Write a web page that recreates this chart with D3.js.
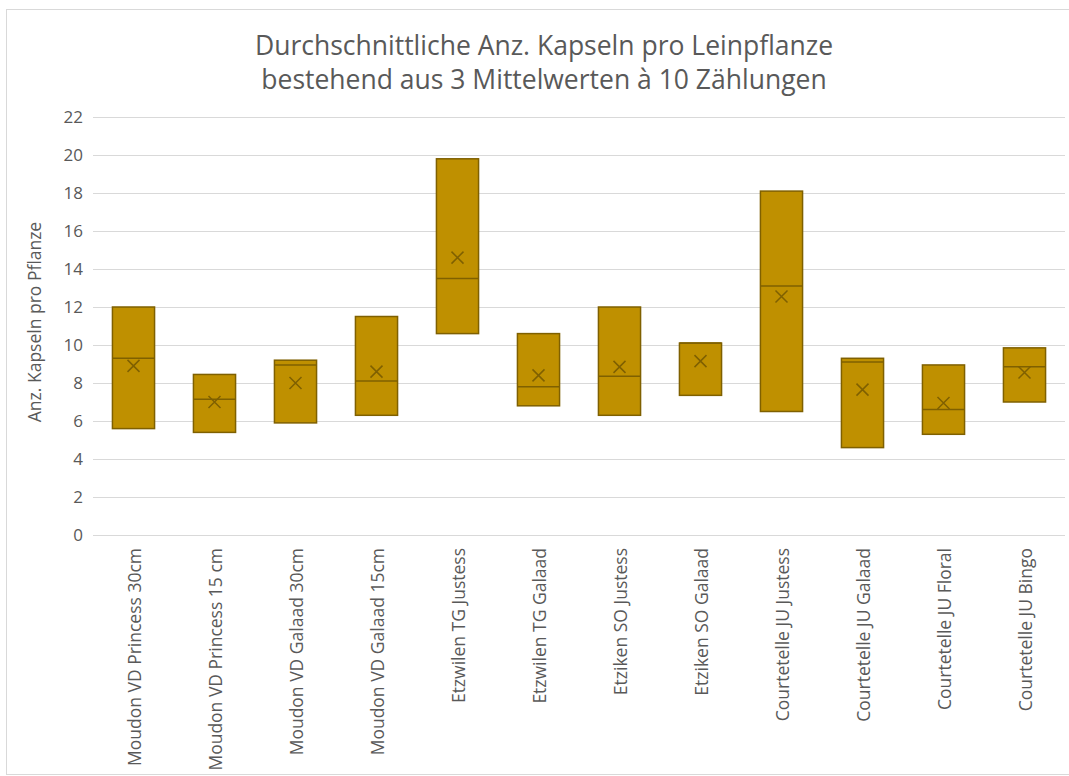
<html lang="de">
<head>
<meta charset="utf-8">
<title>Kapseln pro Leinpflanze</title>
<script src="https://d3js.org/d3.v7.min.js"></script>
<style>
  body { margin: 0; background: #fff; font-family: "Open Sans", sans-serif; overflow: hidden; }
  .grid line { stroke: #d9d9d9; stroke-width: 1px; shape-rendering: crispEdges; }
  .grid path { display: none; }
  .axis path, .axis line { display: none; }
  .axis text { fill: #595959; }
</style>
</head>
<body>
<script>
var categories = ["Moudon VD Princess 30cm", "Moudon VD Princess 15 cm", "Moudon VD Galaad 30cm",
  "Moudon VD Galaad 15cm", "Etzwilen TG Justess", "Etzwilen TG Galaad", "Etziken SO Justess",
  "Etziken SO Galaad", "Courtetelle JU Justess", "Courtetelle JU Galaad", "Courtetelle JU Floral",
  "Courtetelle JU Bingo"];
var q1Values     = [5.6, 5.4, 5.9, 6.3, 10.6, 6.8, 6.3, 7.35, 6.5, 4.6, 5.3, 7.0];
var medianValues = [9.3, 7.15, 8.95, 8.1, 13.5, 7.8, 8.35, 10.1, 13.1, 9.1, 6.6, 8.85];
var q3Values     = [12.0, 8.45, 9.2, 11.5, 19.8, 10.6, 12.0, 10.1, 18.1, 9.3, 8.95, 9.85];
var meanValues   = [8.9, 7.0, 8.0, 8.6, 14.6, 8.4, 8.85, 9.15, 12.55, 7.65, 6.95, 8.55];
var yTicks = [0, 2, 4, 6, 8, 10, 12, 14, 16, 18, 20, 22];

var width = 1069, height = 776;
var plot = {left: 93, right: 1065, top: 117, bottom: 535};

var svg = d3.select("body").append("svg")
    .attr("width", width)
    .attr("height", height)
    .style("display", "block");

// chart frame (runs off the right edge like the original)
svg.append("rect")
    .attr("x", 6.5).attr("y", 9.5)
    .attr("width", width + 10).attr("height", 765)
    .attr("fill", "#fff")
    .attr("stroke", "#d9d9d9");

var x = d3.scaleBand()
    .domain(categories)
    .range([plot.left, plot.right])
    .paddingInner(0.48)
    .paddingOuter(0.24);

var y = d3.scaleLinear()
    .domain([0, 22])
    .range([plot.bottom, plot.top]);

// gridlines
svg.append("g")
    .attr("class", "grid")
    .attr("transform", "translate(" + plot.left + ",0)")
    .call(d3.axisLeft(y).tickValues(yTicks).tickSize(-(plot.right - plot.left)).tickFormat(""));

// y axis labels
svg.append("g")
    .attr("class", "axis")
    .attr("transform", "translate(" + (plot.left - 10) + ",0)")
    .call(d3.axisLeft(y).tickValues(yTicks).tickSize(0).tickPadding(0))
    .selectAll("text")
    .style("font-size", "17px")
    .style("font-family", "'Open Sans', sans-serif");

// x axis labels
svg.append("g")
    .attr("class", "axis")
    .attr("transform", "translate(0," + (plot.bottom + 13) + ")")
    .call(d3.axisBottom(x).tickSize(0).tickPadding(0))
    .selectAll("text")
    .style("font-size", "17.5px")
    .style("font-family", "'Open Sans', sans-serif")
    .style("text-anchor", "end")
    .attr("x", 0)
    .attr("y", 1)
    .attr("dx", 0)
    .attr("dy", "0.35em")
    .attr("transform", "rotate(-90)");

// y axis title
svg.append("text")
    .attr("transform", "translate(41," + ((plot.top + plot.bottom) / 2 - 4) + ") rotate(-90)")
    .attr("text-anchor", "middle")
    .attr("fill", "#595959")
    .style("font-size", "17.5px")
    .text("Anz. Kapseln pro Pflanze");

// title
var title = svg.append("text")
    .attr("x", 544)
    .attr("text-anchor", "middle")
    .attr("fill", "#595959")
    .style("font-size", "26.5px");
title.append("tspan").attr("x", 544).attr("y", 55).text("Durchschnittliche Anz. Kapseln pro Leinpflanze");
title.append("tspan").attr("x", 544).attr("y", 89).text("bestehend  aus 3 Mittelwerten à 10 Zählungen");

// boxes
var boxes = svg.append("g").selectAll("g")
    .data(categories)
    .enter().append("g");

boxes.append("rect")
    .attr("x", function (d) { return x(d); })
    .attr("width", x.bandwidth())
    .attr("y", function (d, i) { return y(q3Values[i]); })
    .attr("height", function (d, i) { return y(q1Values[i]) - y(q3Values[i]); })
    .attr("fill", "#bf9000")
    .attr("stroke", "#7f6000")
    .attr("stroke-width", 1.5);

boxes.append("line")
    .attr("x1", function (d) { return x(d); })
    .attr("x2", function (d) { return x(d) + x.bandwidth(); })
    .attr("y1", function (d, i) { return y(medianValues[i]); })
    .attr("y2", function (d, i) { return y(medianValues[i]); })
    .attr("stroke", "#7f6000")
    .attr("stroke-width", 1.5);

// mean markers (x)
var m = 6;
boxes.append("path")
    .attr("d", function (d, i) {
        var cx = x(d) + x.bandwidth() / 2, cy = y(meanValues[i]);
        return "M" + (cx - m) + "," + (cy - m) + "L" + (cx + m) + "," + (cy + m) +
               "M" + (cx - m) + "," + (cy + m) + "L" + (cx + m) + "," + (cy - m);
    })
    .attr("stroke", "#7f6000")
    .attr("stroke-width", 1.5)
    .attr("fill", "none");
</script>
</body>
</html>
